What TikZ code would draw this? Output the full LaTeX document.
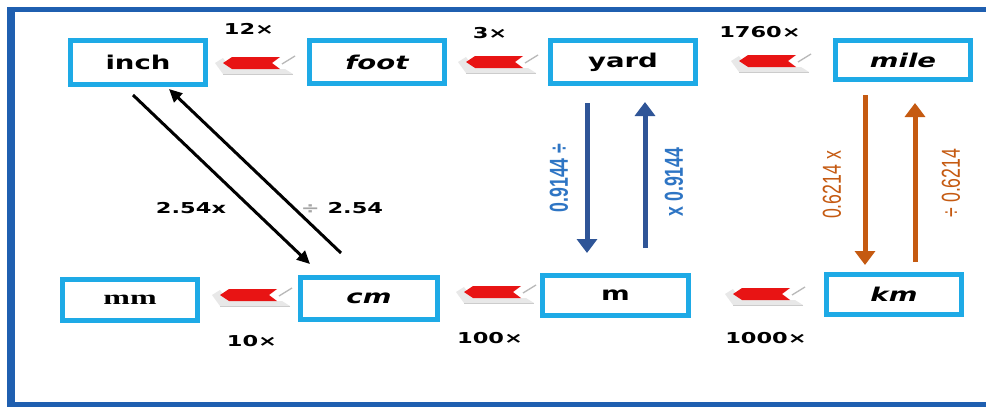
\documentclass[tikz,border=0pt]{standalone}
\usepackage{fontspec}
\usetikzlibrary{arrows.meta,calc}
\newfontfamily\boxfont[FakeStretch=1.45]{DejaVu Sans}
\newfontfamily\numfont[FakeStretch=1.5]{DejaVu Sans}
\newfontfamily\mmfont[FakeStretch=1.6]{Liberation Serif}
\newfontfamily\narrowfont[FakeStretch=0.68]{Liberation Sans}
\definecolor{framecol}{RGB}{31,95,176}
\definecolor{boxcyan}{RGB}{30,170,230}
\definecolor{arrowred}{RGB}{232,20,20}
\definecolor{darkblue}{RGB}{47,85,151}
\definecolor{lblblue}{RGB}{46,117,196}
\definecolor{orng}{RGB}{197,90,17}
\begin{document}
\begin{tikzpicture}[x=1pt,y=-1pt,
  unitbox/.style={draw=boxcyan, line width=5pt, fill=white, inner sep=0pt,
    font=\fontsize{19}{21}\boxfont\bfseries},
  itbox/.style={unitbox, font=\fontsize{19}{21}\boxfont\bfseries\itshape},
  factor/.style={inner sep=0pt, font=\fontsize{15}{17}\numfont\bfseries},
  diagarrow/.style={line width=3pt, -{Triangle[length=13pt,width=12pt]}},
  bluearrow/.style={darkblue, line width=5pt, -{Triangle[length=14pt,width=20pt]}},
  orangearrow/.style={orng, line width=5pt, -{Triangle[length=14pt,width=20pt]}},
  bluelbl/.style={lblblue, rotate=90, inner sep=0pt, font=\fontsize{26}{28}\narrowfont\bfseries},
  orangelbl/.style={orng, rotate=90, inner sep=0pt, font=\fontsize{26}{28}\narrowfont},
  redarr/.pic={
    \fill[gray!18] (-8,0) -- (0,11) -- (70,11) -- (62,6) -- (8,6) -- (0,-5) -- cycle;
    \draw[gray!40, line width=0.8pt] (0,11) -- (70,11);
    \fill[arrowred] (0,0) -- (9,-6) -- (57,-6) -- (49,0) -- (57,6) -- (9,6) -- cycle;
    \draw[gray!55, line width=1.3pt] (59,1) -- (72,-7);
  }]
\useasboundingbox (0,0) rectangle (986,410);
\fill[white] (0,0) rectangle (986,410);
% frame
\draw[framecol, line width=5pt] (986,9.5) -- (11,9.5) -- (11,404.5) -- (986,404.5);
\draw[framecol, line width=8pt] (11,7) -- (11,407);

% boxes
\node[unitbox, minimum width=135pt, minimum height=44pt] (inch) at (138,62.5) {inch};
\node[itbox, minimum width=135pt, minimum height=43pt] (foot) at (377,62) {foot};
\node[unitbox, minimum width=145pt, minimum height=43pt] (yard) at (623,62) {yard};
\node[itbox, minimum width=135pt, minimum height=39pt] (mile) at (903,60) {mile};
\node[unitbox, minimum width=135pt, minimum height=41pt, font=\fontsize{20}{22}\mmfont\bfseries] (mm) at (130,300) {mm};
\node[itbox, minimum width=137pt, minimum height=42pt] (cm) at (369,298.5) {cm};
\node[unitbox, minimum width=146pt, minimum height=40pt] (m) at (615.5,295.5) {m};
\node[itbox, minimum width=135pt, minimum height=40pt] (km) at (894,294.5) {km};

% red arrows
\pic at (223,63) {redarr};
\pic at (466,62) {redarr};
\pic at (739,61) {redarr};
\pic at (220,295) {redarr};
\pic at (464,292) {redarr};
\pic at (733,294) {redarr};

% factor labels
\node[factor] (f12) at (249,29) {12×};
\node[factor] (f3) at (490,33) {3×};
\node[factor] (f1760) at (760,32) {1760×};
\node[factor] (f10) at (252,341) {10×};
\node[factor] (f100) at (490,338) {100×};
\node[factor] (f1000) at (766,338) {1000×};

% diagonal arrows
\coordinate (a1) at ($(inch.south)+(-5,8)$);
\coordinate (a2) at ($(cm.north)+(-59,-11)$);
\coordinate (b1) at ($(cm.north)+(-28,-22)$);
\coordinate (b2) at ($(inch.south)+(31,2)$);
\draw[diagarrow] (a1) -- (a2);
\draw[diagarrow] (b1) -- (b2);
\node[factor] (l254x) at (191,208) {2.54x};
\node[factor] (ldiv254) at (342,208) {{\color{gray!70}÷} 2.54};

% blue arrows
\coordinate (c1) at ($(yard.south)+(-36,17)$);
\coordinate (c2) at ($(m.north)+(-28.5,-20)$);
\coordinate (d1) at ($(m.north)+(29.5,-25)$);
\coordinate (d2) at ($(yard.south)+(22,16)$);
\draw[bluearrow] (c1) -- (c2);
\draw[bluearrow] (d1) -- (d2);
\node[bluelbl] (lb1) at (559,178) {0.9144 ÷};
\node[bluelbl] (lb2) at (674,182) {x 0.9144};

% orange arrows
\coordinate (e1) at ($(mile.south)+(-38,13)$);
\coordinate (e2) at ($(km.north)+(-29,-7)$);
\coordinate (g1) at ($(km.north)+(21,-10)$);
\coordinate (g2) at ($(mile.south)+(12,21)$);
\draw[orangearrow] (e1) -- (e2);
\draw[orangearrow] (g1) -- (g2);
\node[orangelbl] (lo1) at (832,185) {0.6214 x};
\node[orangelbl] (lo2) at (951,183) {÷ 0.6214};
\end{tikzpicture}
\end{document}
